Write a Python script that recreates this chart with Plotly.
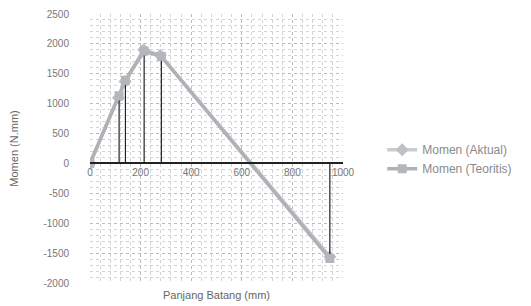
import plotly.graph_objects as go

# Data
x_aktual = [0, 112, 138, 212, 278, 948]
y_aktual = [0, 1100, 1370, 1900, 1810, -1560]
x_teoritis = [0, 115, 140, 214, 282, 948]
y_teoritis = [0, 1130, 1390, 1880, 1790, -1590]
x_ticks = [0, 200, 400, 600, 800, 1000]
y_ticks = [-2000, -1500, -1000, -500, 0, 500, 1000, 1500, 2000, 2500]

y_min, y_max = -2000, 2500

fig = go.Figure()

# drop lines from points to zero (as error bars)
up = [max(-v, 0) for v in y_teoritis]
down = [max(v, 0) for v in y_teoritis]

fig.add_trace(go.Scatter(
    x=x_aktual, y=y_aktual, mode="lines+markers", name="Momen (Aktual)",
    line=dict(color="#c8ccd0", width=3.5),
    marker=dict(symbol="diamond", size=10, color="#bcc1c6"),
))
fig.add_trace(go.Scatter(
    x=x_teoritis, y=y_teoritis, mode="lines+markers", name="Momen (Teoritis)",
    line=dict(color="#aeb2b6", width=3.5),
    marker=dict(symbol="square", size=9, color="#b3b7bb"),
    error_y=dict(type="data", symmetric=False, array=up, arrayminus=down,
                 color="#222222", thickness=1.2, width=0),
))

font = dict(family="Liberation Sans, Arial, sans-serif", size=10, color="#777777")

# page body has an 8px margin, so the figure is sized to fit inside the window
fig.update_layout(
    width=523, height=298,
    margin=dict(l=82, r=188, t=6, b=23),
    paper_bgcolor="white", plot_bgcolor="white",
    font=font,
    showlegend=True,
    legend=dict(x=1.155, y=0.46, xanchor="left", yanchor="middle",
                font=dict(family="Liberation Sans, Arial, sans-serif", size=12, color="#8a8a8a"),
                bgcolor="rgba(0,0,0,0)", tracegroupgap=24),
    xaxis=dict(
        range=[0, 1000], tickvals=x_ticks, ticktext=[str(v) for v in x_ticks],
        anchor="free", position=(0 - y_min) / (y_max - y_min),
        showline=True, linecolor="#222222", linewidth=1.5,
        ticks="", showgrid=True, gridcolor="#bbbbbb", griddash="dot", gridwidth=1,
        minor=dict(dtick=40, showgrid=True, gridcolor="#d4d4d4", griddash="dot", gridwidth=1),
        zeroline=False, tickfont=font, automargin=False,
    ),
    yaxis=dict(
        range=[y_min, y_max], tickvals=y_ticks, ticktext=[str(v) for v in y_ticks],
        showline=False, ticks="", showgrid=True, gridcolor="#bbbbbb", griddash="dot",
        minor=dict(dtick=100, showgrid=True, gridcolor="#d4d4d4", griddash="dot", gridwidth=1),
        zeroline=False, tickfont=font, ticklabelstandoff=20, automargin=False,
        title=dict(text="Momen (N.mm)", font=dict(family="Liberation Sans, Arial, sans-serif", size=11, color="#666666"), standoff=28),
    ),
    annotations=[dict(text="Panjang Batang (mm)", xref="paper", yref="paper",
                      x=0.5, y=-0.015, yanchor="top", showarrow=False,
                      font=dict(family="Liberation Sans, Arial, sans-serif", size=11, color="#666666"))],
)

fig.write_html("out.html")
